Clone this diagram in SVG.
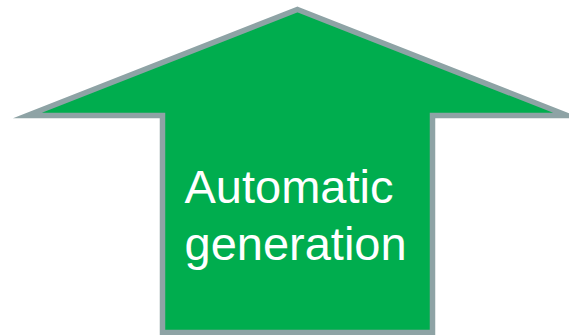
<svg xmlns="http://www.w3.org/2000/svg" width="569" height="335" viewBox="0 0 569 335">
  <style>
    .arrow { fill: #00AD4E; stroke: #8EA3A5; stroke-width: 5.5; stroke-linejoin: miter; stroke-miterlimit: 10; }
    .label { font-family: "Liberation Sans", Arial, sans-serif; font-size: 47px; fill: #FFFFFF; }
  </style>
  <rect width="569" height="335" fill="#FFFFFF"/>
  <g id="arrow-node">
    <path class="arrow" d="M297.5,9.5 L567.5,115.5 L432.5,115.5 L432.5,332.5 L162.5,332.5 L162.5,115.5 L27.5,115.5 Z"/>
    <text class="label" x="184.5" y="203">Automatic</text>
    <text class="label" x="184.5" y="260">generation</text>
  </g>
  <g id="connectors"></g>
</svg>
